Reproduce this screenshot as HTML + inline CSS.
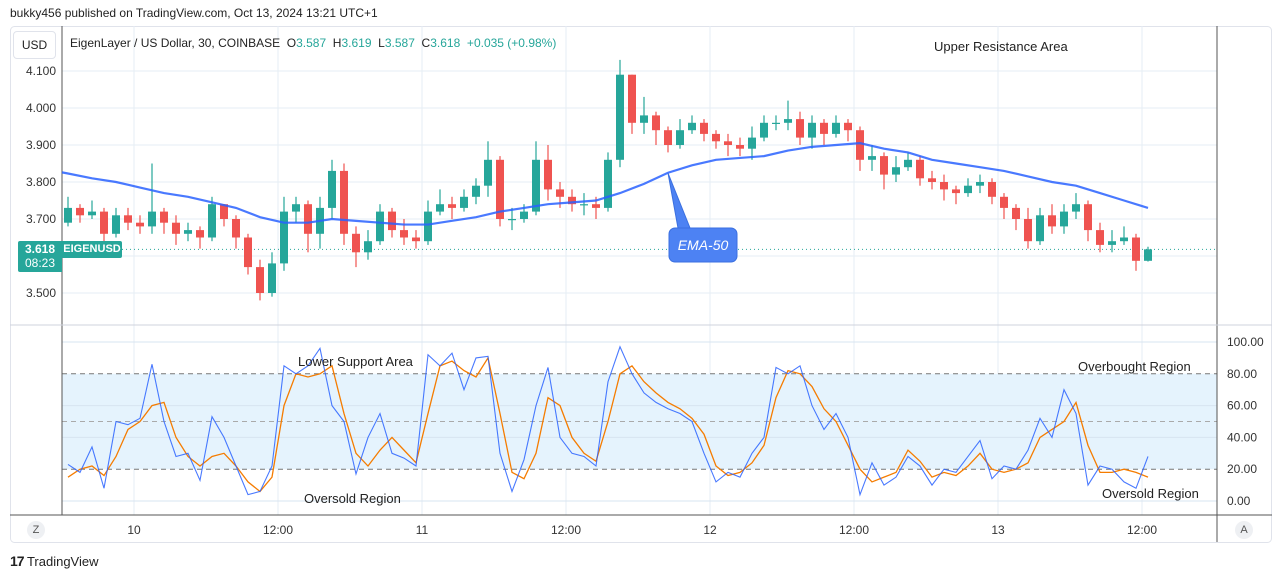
<!DOCTYPE html>
<html><head><meta charset="utf-8">
<style>
body{margin:0;width:1281px;height:579px;background:#fff;font-family:"Liberation Sans",sans-serif;overflow:hidden;position:relative}
.t{position:absolute;white-space:nowrap}
</style></head>
<body>
<div class="t" style="left:10px;top:6px;font-size:12px;color:#222">bukky456 published on TradingView.com, Oct 13, 2024 13:21 UTC+1</div>
<svg id="c" width="1281" height="579" style="position:absolute;left:0;top:0" font-family="Liberation Sans, sans-serif"></svg>
<script>
// ---- data ----
const closes=[3.73,3.71,3.72,3.66,3.71,3.69,3.68,3.72,3.69,3.66,3.67,3.65,3.74,3.70,3.65,3.57,3.50,3.58,3.72,3.74,3.66,3.73,3.83,3.66,3.61,3.64,3.72,3.67,3.65,3.64,3.72,3.74,3.73,3.76,3.79,3.86,3.70,3.70,3.72,3.86,3.78,3.76,3.74,3.74,3.73,3.86,4.09,3.96,3.98,3.94,3.90,3.94,3.96,3.93,3.91,3.90,3.89,3.92,3.96,3.96,3.97,3.92,3.96,3.93,3.96,3.94,3.86,3.87,3.82,3.84,3.86,3.81,3.80,3.78,3.77,3.79,3.80,3.76,3.73,3.70,3.64,3.71,3.68,3.72,3.74,3.67,3.63,3.64,3.65,3.587,3.618];
const firstOpen=3.69;
const highs=[3.76,3.74,3.75,3.73,3.73,3.73,3.71,3.85,3.73,3.71,3.69,3.68,3.76,3.74,3.71,3.66,3.59,3.61,3.76,3.76,3.75,3.76,3.86,3.85,3.68,3.67,3.74,3.73,3.70,3.67,3.75,3.78,3.76,3.78,3.81,3.91,3.87,3.73,3.74,3.91,3.90,3.80,3.78,3.77,3.76,3.88,4.13,4.09,4.03,3.99,3.95,3.97,3.98,3.97,3.94,3.93,3.92,3.95,3.98,3.98,4.02,3.99,3.98,3.97,3.98,3.97,3.95,3.90,3.88,3.87,3.88,3.87,3.83,3.82,3.79,3.81,3.82,3.81,3.77,3.74,3.73,3.73,3.74,3.74,3.77,3.75,3.69,3.67,3.68,3.66,3.625];
const lows=[3.68,3.69,3.70,3.62,3.65,3.67,3.66,3.66,3.66,3.63,3.64,3.62,3.64,3.68,3.62,3.55,3.48,3.49,3.56,3.69,3.61,3.62,3.70,3.63,3.57,3.59,3.63,3.65,3.63,3.62,3.63,3.71,3.70,3.72,3.74,3.76,3.68,3.67,3.69,3.71,3.75,3.73,3.72,3.71,3.70,3.72,3.84,3.93,3.93,3.90,3.88,3.89,3.93,3.91,3.89,3.87,3.87,3.86,3.91,3.94,3.94,3.90,3.89,3.90,3.92,3.91,3.83,3.83,3.78,3.80,3.83,3.79,3.78,3.75,3.74,3.76,3.77,3.74,3.70,3.67,3.62,3.63,3.66,3.66,3.70,3.64,3.61,3.61,3.63,3.56,3.585];
const emaValues=[3.823,3.81,3.80,3.785,3.77,3.76,3.745,3.73,3.705,3.69,3.69,3.70,3.695,3.69,3.685,3.685,3.695,3.705,3.72,3.73,3.74,3.745,3.75,3.77,3.795,3.825,3.845,3.86,3.865,3.87,3.885,3.895,3.90,3.905,3.89,3.88,3.86,3.85,3.84,3.83,3.815,3.80,3.79,3.77,3.75,3.73];
const rsiValues=[23,18,34,8,50,48,52,86,50,28,30,13,53,40,22,4,6,22,85,80,85,96,60,50,17,40,55,30,27,22,92,85,93,70,90,91,30,6,26,60,84,40,30,28,22,75,97,80,68,62,58,55,50,30,12,18,15,30,40,84,80,85,60,45,55,40,4,24,10,15,28,22,10,20,18,28,38,14,22,20,32,52,40,70,55,10,22,20,12,8,28];
const rsiMaValues=[15,20,22,16,28,45,50,60,62,40,28,22,28,30,22,12,6,15,60,80,78,80,85,55,30,22,32,40,32,24,55,85,88,82,78,90,55,18,14,30,65,60,40,30,25,50,80,85,75,68,62,58,52,42,22,16,18,24,35,65,82,80,72,58,50,35,20,12,15,18,32,25,15,18,16,22,30,20,18,20,24,40,45,50,62,35,18,18,20,18,15];
const priceTicks=["4.100","4.000","3.900","3.800","3.700","3.600","3.500"];
const rsiTicks=["100.00","80.00","60.00","40.00","20.00","0.00"];
const timeLabels=["10","12:00","11","12:00","12","12:00","13","12:00"];

// ---- axes ----
const L=62,R=1217,PT=26,PB=325,RT=326,RB=515;
const px=i=>68+i*12;
const py=p=>71+(4.1-p)*370;
const ry=v=>501-v*1.59;
const tx=k=>134+k*144;
const svg=document.getElementById('c');
const NS='http://www.w3.org/2000/svg';
function mk(tag,a,parent){const e=document.createElementNS(NS,tag);for(const k in a)e.setAttribute(k,a[k]);(parent||svg).appendChild(e);return e;}

let e=mk('rect',{x:10.5,y:26.5,width:1261,height:516,rx:4,fill:'#fff',stroke:'#e0e3eb'});


timeLabels.forEach((t,k)=>{e=mk('line',{x1:tx(k),x2:tx(k),y1:PT,y2:RB,stroke:'#e6edf4'});

});
priceTicks.forEach(t=>{const y=py(+t);e=mk('line',{x1:L,x2:R,y1:y,y2:y,stroke:'#e6edf4'});


e=mk('text',{x:56,y:y+4,'text-anchor':'end','font-size':12,fill:'#333'});e.textContent=t;

});
e=mk('rect',{x:L,y:ry(80),width:R-L,height:ry(20)-ry(80),fill:'#e5f3fd'});


rsiTicks.forEach(t=>{const v=+t,y=ry(v);
e=mk('line',{x1:L,x2:R,y1:y,y2:y,stroke:(v==80||v==20)?'#777':'#d7e4f0','stroke-dasharray':(v==80||v==20)?'5,4':''});


e=mk('text',{x:1227,y:y+4,'font-size':12,fill:'#333'});e.textContent=t;

});
e=mk('line',{x1:L,x2:R,y1:ry(50),y2:ry(50),stroke:'#aaa','stroke-dasharray':'5,4'});


[[L,PT,L,RB],[R,PT,R,542],[10,PB,1272,PB],[10,RB,1272,RB]].forEach(a=>{e=mk('line',{x1:a[0],y1:a[1],x2:a[2],y2:a[3],stroke:(a[1]==PB&&a[3]==PB)?'#cfd3dc':'#555'});

});
timeLabels.forEach((t,k)=>{e=mk('text',{x:tx(k),y:534,'text-anchor':'middle','font-size':12,fill:'#333'});e.textContent=t;

});
e=mk('line',{x1:L,x2:R,y1:py(3.618),y2:py(3.618),stroke:'#26a69a','stroke-dasharray':'1,3'});


closes.forEach((c,i)=>{const o=i?closes[i-1]:firstOpen;const up=c>=o;const col=up?'#26a69a':'#ef5350';
const g=mk('g',{});


mk('line',{x1:px(i),x2:px(i),y1:py(highs[i]),y2:py(lows[i]),stroke:col,'stroke-width':1.2},g);
const t=py(Math.max(o,c)),b=py(Math.min(o,c));
mk('rect',{x:px(i)-4,y:t,width:8,height:Math.max(1.2,b-t),fill:col},g);});
e=mk('polyline',{points:L+','+py(emaValues[0]+0.003)+' '+emaValues.map((v,k)=>px(k*2)+','+py(v)).join(' '),fill:'none',stroke:'#2962ff','stroke-width':2.2,'stroke-opacity':0.85});


e=mk('polyline',{points:rsiMaValues.map((v,i)=>px(i)+','+ry(v)).join(' '),fill:'none',stroke:'#f57c00','stroke-width':1.3});


e=mk('polyline',{points:rsiValues.map((v,i)=>px(i)+','+ry(v)).join(' '),fill:'none',stroke:'#2962ff','stroke-width':1.1,'stroke-opacity':0.85});


e=mk('path',{d:'M668,173 L678,228 L690,228 Z',fill:'#4d82f3',stroke:'#3a6fe0'});


e=mk('rect',{x:669,y:228,width:68,height:34,rx:6,fill:'#4d82f3',stroke:'#3a6fe0'});


e=mk('text',{x:703,y:250,'text-anchor':'middle','font-size':14,'font-style':'italic',fill:'#fff'});e.textContent='EMA-50';


</script>
<div class="t" style="left:13px;top:31px;width:41px;height:26px;border:1px solid #e0e3eb;border-radius:4px;font-size:12px;line-height:26px;text-align:center;color:#222;background:#fff">USD</div>
<div class="t" style="left:70px;top:36px;font-size:12px;color:#222">EigenLayer / US Dollar, 30, COINBASE &nbsp;O<span style="color:#26a69a">3.587</span> &nbsp;H<span style="color:#26a69a">3.619</span> &nbsp;L<span style="color:#26a69a">3.587</span> &nbsp;C<span style="color:#26a69a">3.618 &nbsp;+0.035 (+0.98%)</span></div>
<div class="t" style="left:18px;top:241px;width:44px;height:30px;background:#26a69a;color:#fff;font-size:12px;font-weight:bold;text-align:center;line-height:14px;padding-top:1px;border-radius:2px 0 0 2px">3.618<br><span style="font-weight:normal">08:23</span></div>
<div class="t" style="left:62px;top:241px;width:60px;height:17px;background:#26a69a;color:#fff;font-size:11px;font-weight:bold;text-align:center;line-height:17px;border-radius:0 2px 2px 0">EIGENUSD</div>
<div class="t" style="left:934px;top:39px;font-size:13px;color:#222">Upper Resistance Area</div>
<div class="t" style="left:298px;top:354px;font-size:13px;color:#222">Lower Support Area</div>
<div class="t" style="left:304px;top:491px;font-size:13px;color:#222">Oversold Region</div>
<div class="t" style="left:1078px;top:359px;font-size:13px;color:#222">Overbought Region</div>
<div class="t" style="left:1102px;top:486px;font-size:13px;color:#222">Oversold Region</div>
<div class="t" style="left:27px;top:521px;width:18px;height:18px;border-radius:9px;background:#eef0f3;font-size:11px;line-height:18px;text-align:center;color:#555">Z</div>
<div class="t" style="left:1235px;top:521px;width:18px;height:18px;border-radius:9px;background:#eef0f3;font-size:11px;line-height:18px;text-align:center;color:#555">A</div>
<div class="t" style="left:10px;top:553px;font-size:13px;color:#222"><b style="font-size:14px;letter-spacing:-1px">17</b> TradingView</div>
</body></html>
